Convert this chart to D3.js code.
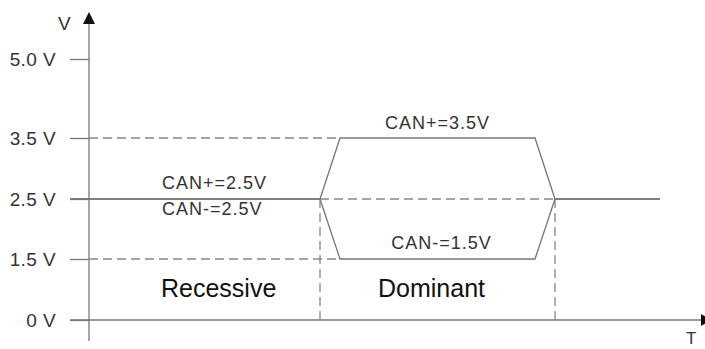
<!DOCTYPE html>
<html>
<head>
<meta charset="utf-8">
<script src="https://cdn.jsdelivr.net/npm/d3@7"></script>
<style>
  html, body { margin: 0; padding: 0; background: #fff; }
  svg { display: block; }
</style>
</head>
<body>
<div id="chart"></div>
<script>
// niveaux de tension (axe V) et leurs libellés
const levels = [0, 1.5, 2.5, 3.5, 5];
const levelLabels = ["0 V", "1.5 V", "2.5 V", "3.5 V", "5.0 V"];

// temps (unités arbitraires) des fronts du signal
const tStart = -1.9, tRise = 23.1, tTop = 25.1, tFallStart = 44.6, tEnd = 46.6, tStop = 57.1;

// CAN+ et CAN-
const canHigh = [
  { t: tStart, v: 2.5 }, { t: tRise, v: 2.5 }, { t: tTop, v: 3.5 },
  { t: tFallStart, v: 3.5 }, { t: tEnd, v: 2.5 }, { t: tStop, v: 2.5 }
];
const canLow = [
  { t: tStart, v: 2.5 }, { t: tRise, v: 2.5 }, { t: tTop, v: 1.5 },
  { t: tFallStart, v: 1.5 }, { t: tEnd, v: 2.5 }, { t: tStop, v: 2.5 }
];

// lignes pointillées de repère
const guides = [
  { t1: 0, v1: 3.5, t2: tTop, v2: 3.5 },
  { t1: 0, v1: 1.5, t2: tTop, v2: 1.5 },
  { t1: tRise, v1: 2.5, t2: tEnd, v2: 2.5 },
  { t1: tRise, v1: 2.5, t2: tRise, v2: 0 },
  { t1: tEnd, v1: 2.5, t2: tEnd, v2: 0 }
];

const width = 705, height = 349;
const font = "'Liberation Sans', Arial, Helvetica, sans-serif";

const svg = d3.select("#chart")
  .append("svg")
  .attr("width", width)
  .attr("height", height);

// échelles
const x = d3.scaleLinear().domain([0, 61.2]).range([89, 701]);
const y = d3.scaleLinear().domain(levels).range([320, 259, 199, 138, 59]);

// axe V
const yAxis = d3.axisLeft(y)
  .tickValues(levels)
  .tickFormat((d, i) => levelLabels[i])
  .tickSize(19)
  .tickPadding(14);

const gy = svg.append("g")
  .attr("transform", `translate(${x(0)},0)`)
  .call(yAxis);
gy.select(".domain").remove();
gy.selectAll(".tick line").attr("stroke", "#777").attr("stroke-width", 1.3);
gy.selectAll(".tick text")
  .attr("fill", "#333")
  .style("font-family", font)
  .style("font-size", "19px")
  .style("letter-spacing", "0.4px");

// lignes des axes
svg.append("line")
  .attr("x1", x(0)).attr("x2", x(0))
  .attr("y1", 22).attr("y2", 341)
  .attr("stroke", "#777").attr("stroke-width", 1.3);
svg.append("path")
  .attr("d", `M${x(0)},12 L${x(0) - 6},24 L${x(0) + 6},24 Z`)
  .attr("fill", "#111");

svg.append("line")
  .attr("x1", 70).attr("x2", 702)
  .attr("y1", y(0)).attr("y2", y(0))
  .attr("stroke", "#777").attr("stroke-width", 1.3);
svg.append("path")
  .attr("d", `M712,${y(0)} L701,${y(0) - 6} L701,${y(0) + 6} Z`)
  .attr("fill", "#111");

// repères pointillés
svg.append("g")
  .selectAll("line")
  .data(guides)
  .enter()
  .append("line")
  .attr("x1", d => x(d.t1)).attr("y1", d => y(d.v1))
  .attr("x2", d => x(d.t2)).attr("y2", d => y(d.v2))
  .attr("stroke", "#888")
  .attr("stroke-width", 1.3)
  .attr("stroke-dasharray", "9,5");

// signaux
const line = d3.line().x(d => x(d.t)).y(d => y(d.v));
svg.append("g")
  .selectAll("path")
  .data([canHigh, canLow])
  .enter()
  .append("path")
  .attr("d", line)
  .attr("fill", "none")
  .attr("stroke", "#777")
  .attr("stroke-width", 1.3);

// textes
const labels = [
  { text: "CAN+=3.5V", t: (tTop + tFallStart) / 2, v: 3.5, dy: -9, anchor: "middle" },
  { text: "CAN-=1.5V", t: (tTop + tFallStart) / 2 + 0.4, v: 1.5, dy: -10, anchor: "middle" },
  { text: "CAN+=2.5V", t: 7.3, v: 2.5, dy: -10, anchor: "start" },
  { text: "CAN-=2.5V", t: 7.3, v: 2.5, dy: 16, anchor: "start" }
];
svg.append("g")
  .selectAll("text")
  .data(labels)
  .enter()
  .append("text")
  .attr("x", d => x(d.t))
  .attr("y", d => y(d.v) + d.dy)
  .attr("text-anchor", d => d.anchor)
  .attr("fill", "#333")
  .style("font-family", font)
  .style("font-size", "18px")
  .style("letter-spacing", "1px")
  .text(d => d.text);

const states = [
  { text: "Recessive", t: 7.2 },
  { text: "Dominant", t: 28.9 }
];
svg.append("g")
  .selectAll("text")
  .data(states)
  .enter()
  .append("text")
  .attr("x", d => x(d.t))
  .attr("y", 297)
  .attr("fill", "#111")
  .style("font-family", font)
  .style("font-size", "25px")
  .text(d => d.text);

// noms des axes
svg.append("text")
  .attr("x", 58).attr("y", 30)
  .attr("fill", "#333")
  .style("font-family", font)
  .style("font-size", "19px")
  .text("V");
svg.append("text")
  .attr("x", 686).attr("y", 344)
  .attr("fill", "#333")
  .style("font-family", font)
  .style("font-size", "17px")
  .text("T");
</script>
</body>
</html>
